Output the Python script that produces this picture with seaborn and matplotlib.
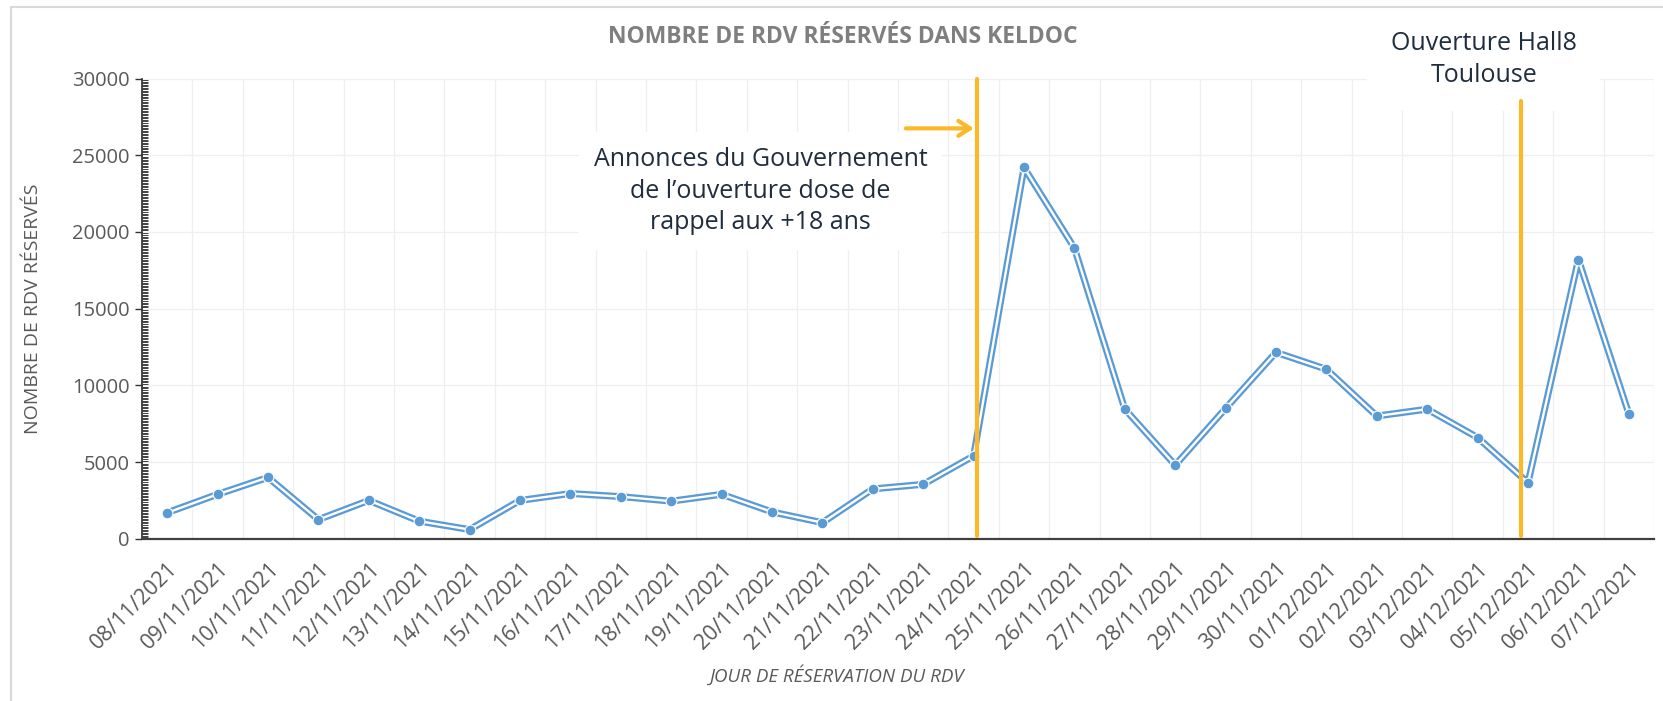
import numpy as np
import pandas as pd
import seaborn as sns
from matplotlib import pyplot as plt
from matplotlib.ticker import MultipleLocator
from matplotlib.patches import Rectangle

dates = ["08/11/2021", "09/11/2021", "10/11/2021", "11/11/2021", "12/11/2021",
         "13/11/2021", "14/11/2021", "15/11/2021", "16/11/2021", "17/11/2021",
         "18/11/2021", "19/11/2021", "20/11/2021", "21/11/2021", "22/11/2021",
         "23/11/2021", "24/11/2021", "25/11/2021", "26/11/2021", "27/11/2021",
         "28/11/2021", "29/11/2021", "30/11/2021", "01/12/2021", "02/12/2021",
         "03/12/2021", "04/12/2021", "05/12/2021", "06/12/2021", "07/12/2021"]
rdv = [1700, 2900, 4000, 1250, 2500, 1150, 600, 2500, 2950, 2750,
       2450, 2900, 1750, 1050, 3250, 3550, 5400, 24200, 18950, 8450,
       4800, 8500, 12150, 11050, 8000, 8450, 6600, 3650, 18200, 8150]

# evenements (position en index de jour, haut du trait)
event_pos = [16.06, 26.87]
event_top = [30000, 28550]
event_txt = ["Annonces du Gouvernement\nde l\u2019ouverture dose de\nrappel aux +18 ans",
             "Ouverture Hall8\nToulouse"]

BLUE = "#5b9bd5"
ORANGE = "#fbb829"
GREY = "#595959"
DARK = "#1f2d3d"

sns.set_theme(style="white")
plt.rcParams['font.family'] = ['Open Sans', 'DejaVu Sans']

dt = pd.DataFrame({"jour": np.arange(len(dates)), "rdv": rdv})

fig = plt.figure(figsize=(16.63, 7.01), dpi=100)
ax = fig.add_axes([0.0854, 0.2314, 0.9092, 0.6566])

# ligne double : bleu epais + blanc fin au centre
sns.lineplot(data=dt, x="jour", y="rdv", color=BLUE, lw=5, ax=ax, zorder=3)
sns.lineplot(data=dt, x="jour", y="rdv", color="white", lw=1.7, ax=ax, zorder=4)
sns.scatterplot(data=dt, x="jour", y="rdv", color=BLUE, s=60, edgecolor="white",
                linewidth=0.8, ax=ax, zorder=5)

ax.set_xlim(-0.5, len(dates) - 0.5)
ax.set_ylim(0, 30000)
ax.set_xticks(np.arange(len(dates)))
ax.set_xticklabels(dates, rotation=45, ha="right", rotation_mode="anchor")
ax.set_xticks(np.arange(len(dates) + 1) - 0.5, minor=True)
ax.set_yticks(np.arange(0, 30001, 5000))
ax.yaxis.set_minor_locator(MultipleLocator(100))

ax.xaxis.grid(True, which="minor", color="#efefef", lw=0.9)
ax.yaxis.grid(True, which="major", color="#efefef", lw=0.9)
ax.set_axisbelow(True)

ax.tick_params(axis="x", which="major", length=0, pad=14, labelsize=15.5, labelcolor=GREY)
ax.tick_params(axis="x", which="minor", length=0)
ax.tick_params(axis="y", which="major", left=True, length=5, width=1, direction="out",
               pad=4, labelsize=14.5, labelcolor=GREY, color="#333333")
ax.tick_params(axis="y", which="minor", left=True, length=4, width=0.6, direction="in",
               color="#222222")

for s in ["top", "right"]:
    ax.spines[s].set_visible(False)
ax.spines["left"].set_color("#333333")
ax.spines["bottom"].set_color("#404040")
ax.spines["bottom"].set_linewidth(1.6)

ax.set_ylabel("NOMBRE DE RDV RÉSERVÉS", fontsize=14, color=GREY)
ax.yaxis.set_label_coords(-0.066, 0.5)
ax.set_xlabel("JOUR DE RÉSERVATION DU RDV", fontsize=13.5, color=GREY, style="italic")
ax.xaxis.set_label_coords(0.46, -0.275)

# traits orange
for p, t in zip(event_pos, event_top):
    ax.plot([p, p], [150, t], color=ORANGE, lw=3, zorder=8, clip_on=False)

ax.annotate("", xy=(event_pos[0], 26750), xytext=(14.6, 26750),
            arrowprops=dict(arrowstyle="->,head_length=0.7,head_width=0.45",
                            color=ORANGE, lw=3), zorder=8)

ax.text(11.77, 22650, event_txt[0], ha="center", va="center", fontsize=18,
        color=DARK, linespacing=1.35, zorder=7,
        bbox=dict(boxstyle="square,pad=0.6", fc="white", ec="none"))
ax.text(26.12, 31250, event_txt[1], ha="center", va="center", fontsize=18,
        color=DARK, linespacing=1.35, zorder=7, clip_on=False,
        bbox=dict(boxstyle="square,pad=0.95", fc="white", ec="none"))

fig.text(0.507, 0.947, "NOMBRE DE RDV RÉSERVÉS DANS KELDOC", ha="center", va="center",
         fontsize=16.5, fontweight="bold", color="#7f7f7f")

# cadre du graphique
fig.patches.append(Rectangle((0.0066, -0.02), 1.0, 1.01 - 0.0005, transform=fig.transFigure,
                             fill=False, ec="#d9d9d9", lw=1.5))

fig.savefig("out.png", dpi=100)
